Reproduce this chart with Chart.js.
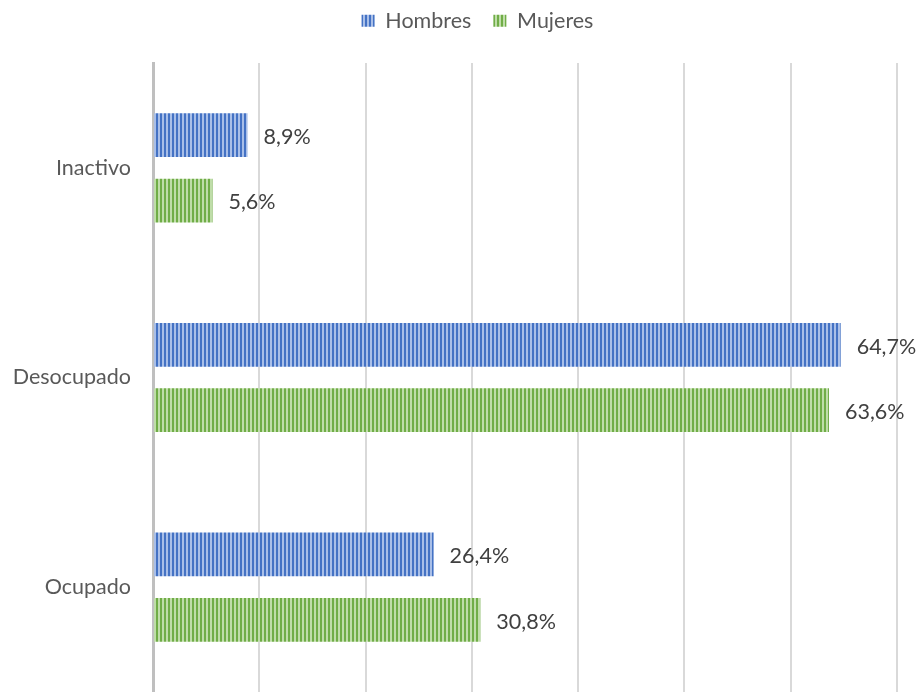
<!DOCTYPE html>
<html>
<head>
<meta charset="utf-8">
<script src="https://cdn.jsdelivr.net/npm/chart.js@4"></script>
<style>
html,body{margin:0;padding:0;background:#fff;}
#wrap{width:920px;height:692px;position:relative;}
</style>
</head>
<body>
<div id="wrap"><canvas id="c" width="920" height="692"></canvas></div>
<script>
const categories = ["Inactivo", "Desocupado", "Ocupado"];
const hombres = [8.9, 64.7, 26.4];
const mujeres = [5.6, 63.6, 30.8];
const seriesNames = ["Hombres", "Mujeres"];

const FONT = 'Lato, "Open Sans", sans-serif';

function stripes(dark, light) {
  const c = document.createElement('canvas');
  c.width = 4; c.height = 4;
  const g = c.getContext('2d');
  g.fillStyle = light; g.fillRect(0, 0, 4, 4);
  g.fillStyle = dark; g.fillRect(0, 0, 2, 4);
  return g.createPattern(c, 'repeat');
}
const ctx = document.getElementById('c').getContext('2d');
const bluePat = stripes('#4472c4', '#a9bfe8');
const greenPat = stripes('#70ad47', '#bfdda9');

const labelPlugin = {
  id: 'valueLabels',
  afterDatasetsDraw(chart) {
    const g = chart.ctx;
    g.save();
    g.font = '21.5px ' + FONT;
    g.fillStyle = '#404040';
    g.textBaseline = 'middle';
    g.textAlign = 'left';
    chart.data.datasets.forEach((ds, i) => {
      const meta = chart.getDatasetMeta(i);
      meta.data.forEach((el, j) => {
        const v = ds.data[j];
        g.fillText(v.toFixed(1).replace('.', ',') + '%', el.x + 16, el.y + 2);
      });
    });
    g.restore();
  }
};

const legendFitPlugin = {
  id: 'legendFit',
  beforeInit(chart) {
    const lg = chart.legend;
    if (!lg) return;
    const origFit = lg.fit;
    lg.fit = function () {
      origFit.call(this);
      this.height = 75;
    };
    const origDraw = lg.draw;
    lg.draw = function (area) {
      this.ctx.save();
      this.ctx.translate(29, 0);
      origDraw.call(this, area);
      this.ctx.restore();
    };
  }
};

new Chart(ctx, {
  type: 'bar',
  data: {
    labels: categories,
    datasets: [
      { label: seriesNames[0], data: hombres, backgroundColor: bluePat, borderWidth: 0 },
      { label: seriesNames[1], data: mujeres, backgroundColor: greenPat, borderWidth: 0 }
    ]
  },
  options: {
    indexAxis: 'y',
    responsive: false,
    animation: false,
    devicePixelRatio: 1,
    layout: { padding: { top: -12, bottom: 0, left: 0, right: 23 } },
    datasets: { bar: { categoryPercentage: 0.624, barPercentage: 0.67 } },
    scales: {
      x: {
        min: 0, max: 70,
        ticks: { display: false, stepSize: 10 },
        grid: { color: '#d9d9d9', lineWidth: 2, drawTicks: false },
        border: { display: false },
        afterFit(scale) { scale.height = 0; scale.paddingLeft = 0; scale.paddingRight = 0; }
      },
      y: {
        ticks: { color: '#595959', font: { size: 21.5, family: FONT }, padding: 22 },
        grid: { display: false, drawTicks: false },
        border: { display: true, color: '#bfbfbf', width: 3 },
        afterFit(scale) { scale.width = 153; scale.paddingTop = 0; scale.paddingBottom = 0; }
      }
    },
    plugins: {
      legend: {
        position: 'top',
        labels: {
          color: '#595959',
          font: { size: 21.5, family: FONT },
          boxWidth: 13, boxHeight: 12, padding: 22
        }
      },
      tooltip: { enabled: false }
    }
  },
  plugins: [labelPlugin, legendFitPlugin]
});
</script>
</body>
</html>
